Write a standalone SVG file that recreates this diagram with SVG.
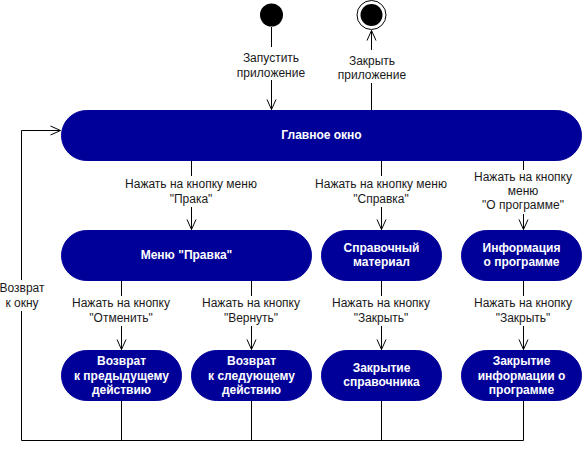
<svg xmlns="http://www.w3.org/2000/svg" width="582" height="451" viewBox="0 0 582 451">
<style>
.node{fill:#000099;stroke:#000099;stroke-width:1}
.nt{font-family:"Liberation Sans",Arial,sans-serif;font-size:12px;font-weight:bold;fill:#ffffff;text-anchor:middle}
.lt{font-family:"Liberation Sans",Arial,sans-serif;font-size:12px;fill:#1a1a1a;text-anchor:middle}
.ln{fill:none;stroke:#000000;stroke-width:1}
.bg{fill:#ffffff}
</style>
<defs>
<marker id="open" markerUnits="userSpaceOnUse" markerWidth="14" markerHeight="14" viewBox="-11 -7 14 14" refX="0" refY="0" orient="auto">
<path d="M-10,-4.5 L0,0 L-10,4.5" fill="none" stroke="#000000" stroke-width="1"/>
</marker>
</defs>
<rect width="582" height="451" fill="#ffffff"/>

<g id="connectors">
<path class="ln" d="M271.5,27 L271.5,109.5" marker-end="url(#open)"/>
<path class="ln" d="M371.5,110 L371.5,30.5" marker-end="url(#open)"/>
<path class="ln" d="M191.5,160 L191.5,229.5" marker-end="url(#open)"/>
<path class="ln" d="M381.5,160 L381.5,229.5" marker-end="url(#open)"/>
<path class="ln" d="M523.5,160 L523.5,229.5" marker-end="url(#open)"/>
<path class="ln" d="M121.5,280 L121.5,349.5" marker-end="url(#open)"/>
<path class="ln" d="M251.5,280 L251.5,349.5" marker-end="url(#open)"/>
<path class="ln" d="M381.5,280 L381.5,349.5" marker-end="url(#open)"/>
<path class="ln" d="M523.5,280 L523.5,349.5" marker-end="url(#open)"/>
<path class="ln" d="M121.5,400 L121.5,440.5"/>
<path class="ln" d="M251.5,400 L251.5,440.5"/>
<path class="ln" d="M381.5,400 L381.5,440.5"/>
<path class="ln" d="M523.5,400 L523.5,440.5 L21.5,440.5 L21.5,130.5 L60.5,130.5" marker-end="url(#open)"/>

<rect class="bg" x="236" y="47" width="71" height="33"/>
<text class="lt" x="271" y="62">Запустить</text>
<text class="lt" x="271" y="77">приложение</text>

<rect class="bg" x="336" y="50" width="72" height="33"/>
<text class="lt" x="372" y="65">Закрыть</text>
<text class="lt" x="372" y="79">приложение</text>

<rect class="bg" x="124" y="176" width="135" height="31"/>
<text class="lt" x="191" y="188">Нажать на кнопку меню</text>
<text class="lt" x="191" y="203">"Прака"</text>

<rect class="bg" x="314" y="176" width="135" height="31"/>
<text class="lt" x="381" y="188">Нажать на кнопку меню</text>
<text class="lt" x="381" y="203">"Справка"</text>

<rect class="bg" x="472" y="170" width="103" height="44"/>
<text class="lt" x="523" y="181">Нажать на кнопку</text>
<text class="lt" x="523" y="195">меню</text>
<text class="lt" x="523" y="209">"О программе"</text>

<rect class="bg" x="70" y="296" width="103" height="30"/>
<text class="lt" x="121" y="307">Нажать на кнопку</text>
<text class="lt" x="121" y="322">"Отменить"</text>

<rect class="bg" x="200" y="296" width="103" height="30"/>
<text class="lt" x="251" y="307">Нажать на кнопку</text>
<text class="lt" x="251" y="322">"Вернуть"</text>

<rect class="bg" x="330" y="296" width="103" height="30"/>
<text class="lt" x="381" y="307">Нажать на кнопку</text>
<text class="lt" x="381" y="322">"Закрыть"</text>

<rect class="bg" x="472" y="296" width="103" height="30"/>
<text class="lt" x="523" y="307">Нажать на кнопку</text>
<text class="lt" x="523" y="322">"Закрыть"</text>

<rect class="bg" x="0" y="280" width="44" height="31"/>
<text class="lt" x="22" y="292">Возврат</text>
<text class="lt" x="22" y="307">к окну</text>
</g>

<g id="start">
<circle cx="271.5" cy="15" r="11.5" fill="#000000"/>
</g>

<g id="end">
<circle cx="371.5" cy="15" r="14.5" fill="#ffffff" stroke="#000000" stroke-width="1"/>
<circle cx="371.5" cy="15" r="11" fill="#000000"/>
</g>

<g id="main-window">
<rect class="node" x="61.5" y="110.5" width="520" height="50" rx="25" ry="25"/>
<text class="nt" x="321.5" y="139">Главное окно</text>
</g>

<g id="menu-edit">
<rect class="node" x="61.5" y="230.5" width="250" height="50" rx="25" ry="25"/>
<text class="nt" x="186.5" y="259">Меню "Правка"</text>
</g>

<g id="help-material">
<rect class="node" x="321.5" y="230.5" width="120" height="50" rx="25" ry="25"/>
<text class="nt" x="381.5" y="252">Справочный</text>
<text class="nt" x="381.5" y="266">материал</text>
</g>

<g id="about-info">
<rect class="node" x="461.5" y="230.5" width="120" height="50" rx="25" ry="25"/>
<text class="nt" x="521.5" y="252">Информация</text>
<text class="nt" x="521.5" y="266">о программе</text>
</g>

<g id="undo">
<rect class="node" x="61.5" y="350.5" width="120" height="50" rx="25" ry="25"/>
<text class="nt" x="121.5" y="365">Возврат</text>
<text class="nt" x="121.5" y="380">к предыдущему</text>
<text class="nt" x="121.5" y="394">действию</text>
</g>

<g id="redo">
<rect class="node" x="191.5" y="350.5" width="120" height="50" rx="25" ry="25"/>
<text class="nt" x="251.5" y="365">Возврат</text>
<text class="nt" x="251.5" y="380">к следующему</text>
<text class="nt" x="251.5" y="394">действию</text>
</g>

<g id="close-help">
<rect class="node" x="321.5" y="350.5" width="120" height="50" rx="25" ry="25"/>
<text class="nt" x="381.5" y="372">Закрытие</text>
<text class="nt" x="381.5" y="386">справочника</text>
</g>

<g id="close-about">
<rect class="node" x="461.5" y="350.5" width="120" height="50" rx="25" ry="25"/>
<text class="nt" x="521.5" y="365">Закрытие</text>
<text class="nt" x="521.5" y="380">информации о</text>
<text class="nt" x="521.5" y="394">программе</text>
</g>
</svg>
